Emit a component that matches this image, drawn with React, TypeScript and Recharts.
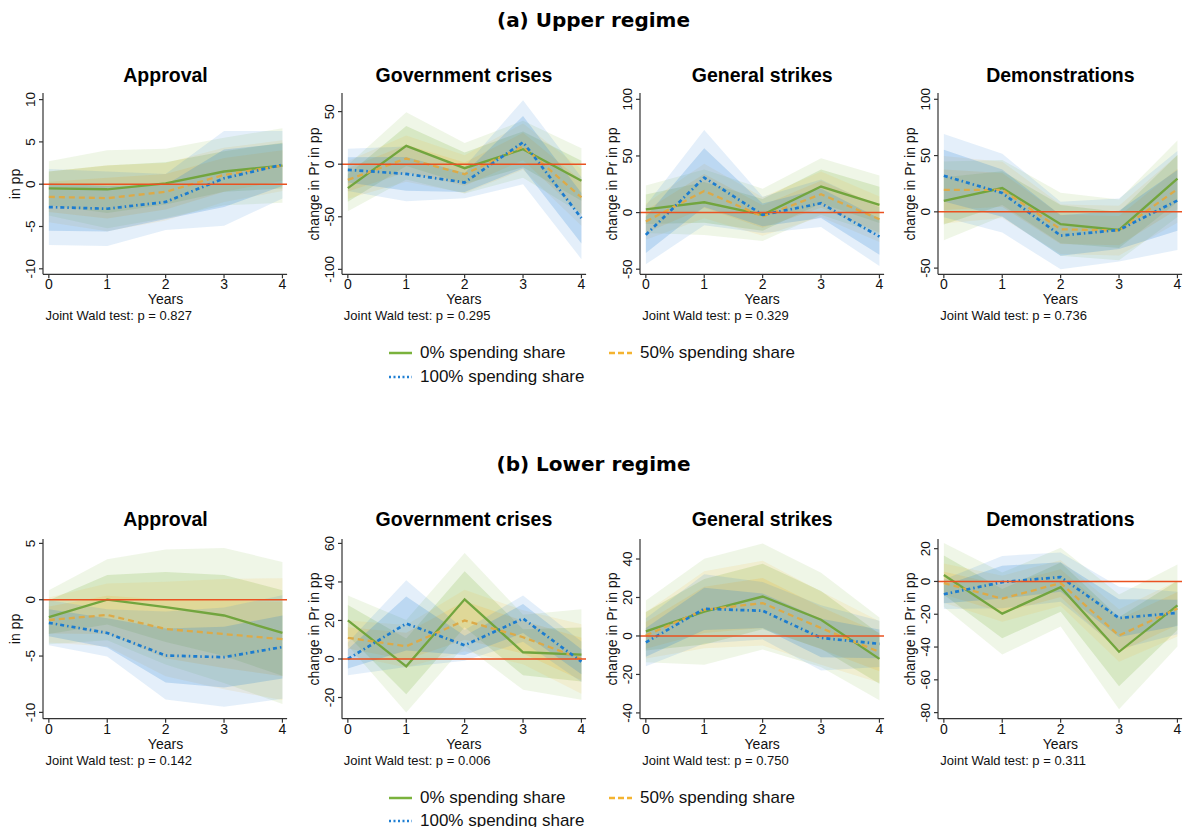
import React from 'react';
import { ComposedChart, Area, Line, XAxis, YAxis, ReferenceLine } from 'recharts';

// ---------- data ----------
const years = [0, 1, 2, 3, 4];
const xTicks = [0, 1, 2, 3, 4];

const seriesNames = ['0% spending share', '50% spending share', '100% spending share'];
const sectionTitles = ['(a) Upper regime', '(b) Lower regime'];
const panelTitles = ['Approval', 'Government crises', 'General strikes', 'Demonstrations'];
const yLabels = ['in pp', 'change in Pr in pp', 'change in Pr in pp', 'change in Pr in pp'];
const waldUpper = ['0.827', '0.295', '0.329', '0.736'];
const waldLower = ['0.142', '0.006', '0.750', '0.311'];

// Upper regime — Approval
const uApG = [-0.5, -0.6, 0.1, 1.5, 2.2];
const uApGOut = [3.2, 4.6, 4.1, 4.0, 4.4];
const uApGIn = [2.0, 2.8, 2.5, 2.4, 2.7];
const uApO = [-1.5, -1.65, -0.9, 1.1, 2.2];
const uApOOut = [3.0, 3.9, 3.4, 3.2, 3.0];
const uApOIn = [1.8, 2.4, 2.1, 2.0, 1.8];
const uApB = [-2.7, -2.9, -2.1, 0.7, 2.3];
const uApBOut = [4.5, 4.4, 3.3, 5.6, 4.0];
const uApBIn = [2.8, 2.7, 2.0, 3.4, 2.5];

// Upper regime — Government crises
const uGcG = [-22.8, 17.4, -3.8, 14.2, -15.8];
const uGcGOut = [22, 32, 24, 27, 31];
const uGcGIn = [13, 19, 15, 17, 19];
const uGcO = [-14.9, 5.4, -9.5, 16.8, -31.6];
const uGcOOut = [18, 22, 18, 22, 27];
const uGcOIn = [11, 13, 11, 13, 16];
const uGcB = [-5.4, -9.2, -17.4, 20.9, -51.3];
const uGcBOut = [20, 26, 15, 40, 39];
const uGcBIn = [12, 16, 9, 25, 24];

// Upper regime — General strikes
const uGsG = [2.9, 9.1, -2, 23, 6.8];
const uGsGOut = [21, 29, 23, 25, 26];
const uGsGIn = [13, 18, 14, 15, 16];
const uGsO = [-7.9, 19.1, -3.5, 16.2, -5.9];
const uGsOOut = [16, 24, 17, 20, 20];
const uGsOIn = [10, 15, 10, 12, 12];
const uGsB = [-19.7, 30.9, -2, 8.2, -21.2];
const uGsBOut = [26, 42, 16, 21, 26];
const uGsBIn = [16, 26, 10, 13, 16];

// Upper regime — Demonstrations
const uDmG = [9.8, 21.1, -11, -16.1, 29.5];
const uDmGOut = [35, 25, 28, 27, 34];
const uDmGIn = [21, 15, 17, 16, 21];
const uDmO = [19.6, 19.6, -15.5, -16.7, 20.2];
const uDmOOut = [30, 25, 22, 22, 30];
const uDmOIn = [18, 15, 13, 13, 18];
const uDmB = [32.1, 16.7, -21.1, -16.1, 10.1];
const uDmBOut = [37, 35, 30, 28, 44];
const uDmBIn = [23, 21, 18, 17, 27];

// Lower regime — Approval
const lApG = [-1.55, 0, -0.65, -1.4, -2.95];
const lApGOut = [2.4, 3.6, 5.1, 6.0, 6.3];
const lApGIn = [1.5, 2.2, 3.1, 3.6, 3.8];
const lApO = [-1.8, -1.35, -2.6, -3.05, -3.5];
const lApOOut = [2.0, 2.8, 4.2, 4.9, 5.4];
const lApOIn = [1.2, 1.7, 2.6, 3.0, 3.3];
const lApB = [-2.05, -2.95, -4.95, -5.1, -4.2];
const lApBOut = [2.0, 2.1, 3.9, 4.4, 4.6];
const lApBIn = [1.2, 1.3, 2.4, 2.7, 2.8];

// Lower regime — Government crises
const lGcG = [20, -3.8, 31, 3.5, 2.3];
const lGcGOut = [13, 24, 24, 19.5, 23.5];
const lGcGIn = [8, 14.5, 14.5, 12, 14];
const lGcO = [11, 6.6, 20, 11.3, 0];
const lGcOOut = [9, 11, 16, 14, 18];
const lGcOIn = [5.5, 7, 10, 8.5, 11];
const lGcB = [0, 18.4, 7.1, 21, -1.4];
const lGcBOut = [8.5, 22.5, 8, 12, 10.5];
const lGcBIn = [5, 14, 5, 7.5, 6.5];

// Lower regime — General strikes
const lGsG = [2.4, 12.6, 20.5, 8.4, -11.9];
const lGsGOut = [16, 27.5, 27.5, 24.5, 21.5];
const lGsGIn = [10, 17, 17, 15, 13];
const lGsO = [0.3, 13.6, 17.1, 4.1, -8.3];
const lGsOOut = [12, 20, 22, 19, 16];
const lGsOIn = [7, 12, 13, 11, 10];
const lGsB = [-3.3, 14.1, 13.1, -1, -4.1];
const lGsBOut = [12.5, 18, 15, 17, 12];
const lGsBIn = [7.5, 11, 9, 10, 7.5];

// Lower regime — Demonstrations
const lDmG = [3.9, -19.6, -3.5, -42.9, -14.6];
const lDmGOut = [19.5, 25, 24, 35, 25];
const lDmGIn = [12, 15, 15, 21, 15];
const lDmO = [-1, -10.5, -1, -33, -16.5];
const lDmOOut = [12, 14, 14, 16, 17];
const lDmOIn = [7, 8.5, 8.5, 10, 10];
const lDmB = [-7.8, -0.4, 2.7, -22.3, -19.2];
const lDmBOut = [9, 16, 15, 19, 13];
const lDmBIn = [5.5, 10, 9, 11.5, 8];

// y-axis ticks per panel
const uApTicks = [-10, -5, 0, 5, 10];
const uGcTicks = [-100, -50, 0, 50];
const uGsTicks = [-50, 0, 50, 100];
const uDmTicks = [-50, 0, 50, 100];
const lApTicks = [-10, -5, 0, 5];
const lGcTicks = [-20, 0, 20, 40, 60];
const lGsTicks = [-40, -20, 0, 20, 40];
const lDmTicks = [-80, -60, -40, -20, 0, 20];

// ---------- style ----------
const FONT = '"Liberation Sans", Arial, Helvetica, sans-serif';
const GREEN = '#7ab23c';
const ORANGE = '#f4b330';
const BLUE = '#1f7fd3';
const LINE_GREEN = '#72a53e';
const LINE_ORANGE = '#dcaa48';
const LINE_BLUE = '#1c7ccf';
const RED = '#ea5220';
const AXIS = '#333333';
const OUT_OP = 0.12;
const IN_OP = 0.2;

const PX_PER_YEAR = 58.4;
const X_DOMAIN: [number, number] = [-0.1, 4.08];
const PLOT_W = (X_DOMAIN[1] - X_DOMAIN[0]) * PX_PER_YEAR;
const ZERO_X = [49.3, 347.7, 646, 944.2];
const ROW_TOP = [93, 539.3];
const ROW_H = [181.3, 179.7];
const Y_W = 40;
const M_T = 5;
const M_R = 5;
const X_H = 24;

type Series = { c: number[]; out: number[]; inn: number[] };
type PanelSpec = {
  g: Series; o: Series; b: Series;
  domain: [number, number]; ticks: number[];
};

const upperPanels: PanelSpec[] = [
  { g: { c: uApG, out: uApGOut, inn: uApGIn }, o: { c: uApO, out: uApOOut, inn: uApOIn }, b: { c: uApB, out: uApBOut, inn: uApBIn }, domain: [-10.65, 10.78], ticks: uApTicks },
  { g: { c: uGcG, out: uGcGOut, inn: uGcGIn }, o: { c: uGcO, out: uGcOOut, inn: uGcOIn }, b: { c: uGcB, out: uGcBOut, inn: uGcBIn }, domain: [-104.7, 67.7], ticks: uGcTicks },
  { g: { c: uGsG, out: uGsGOut, inn: uGsGIn }, o: { c: uGsO, out: uGsOOut, inn: uGsOIn }, b: { c: uGsB, out: uGsBOut, inn: uGsBIn }, domain: [-54.5, 105.6], ticks: uGsTicks },
  { g: { c: uDmG, out: uDmGOut, inn: uDmGIn }, o: { c: uDmO, out: uDmOOut, inn: uDmOIn }, b: { c: uDmB, out: uDmBOut, inn: uDmBIn }, domain: [-55.5, 105.6], ticks: uDmTicks },
];
const lowerPanels: PanelSpec[] = [
  { g: { c: lApG, out: lApGOut, inn: lApGIn }, o: { c: lApO, out: lApOOut, inn: lApOIn }, b: { c: lApB, out: lApBOut, inn: lApBIn }, domain: [-10.56, 5.39], ticks: lApTicks },
  { g: { c: lGcG, out: lGcGOut, inn: lGcGIn }, o: { c: lGcO, out: lGcOOut, inn: lGcOIn }, b: { c: lGcB, out: lGcBOut, inn: lGcBIn }, domain: [-31.0, 62.3], ticks: lGcTicks },
  { g: { c: lGsG, out: lGsGOut, inn: lGsGIn }, o: { c: lGsO, out: lGsOOut, inn: lGsOIn }, b: { c: lGsB, out: lGsBOut, inn: lGsBIn }, domain: [-43.0, 50.4], ticks: lGsTicks },
  { g: { c: lDmG, out: lDmGOut, inn: lDmGIn }, o: { c: lDmO, out: lDmOOut, inn: lDmOIn }, b: { c: lDmB, out: lDmBOut, inn: lDmBIn }, domain: [-83.7, 25.9], ticks: lDmTicks },
];

function buildRows(p: PanelSpec) {
  return years.map((x, i) => ({
    x,
    g: p.g.c[i],
    gOut: [p.g.c[i] - p.g.out[i], p.g.c[i] + p.g.out[i]],
    gIn: [p.g.c[i] - p.g.inn[i], p.g.c[i] + p.g.inn[i]],
    o: p.o.c[i],
    oOut: [p.o.c[i] - p.o.out[i], p.o.c[i] + p.o.out[i]],
    oIn: [p.o.c[i] - p.o.inn[i], p.o.c[i] + p.o.inn[i]],
    b: p.b.c[i],
    bOut: [p.b.c[i] - p.b.out[i], p.b.c[i] + p.b.out[i]],
    bIn: [p.b.c[i] - p.b.inn[i], p.b.c[i] + p.b.inn[i]],
  }));
}

const RotTick = (props: any) => {
  const { x, y, payload } = props;
  return (
    <text
      x={x}
      y={y}
      transform={`rotate(-90 ${x} ${y})`}
      textAnchor="middle"
      fontSize={13.5}
      fontFamily={FONT}
      fill="#111"
    >
      {payload.value}
    </text>
  );
};

function Panel({ spec, row, col, title, ylabel, wald }: { spec: PanelSpec; row: number; col: number; title: string; ylabel: string; wald: string }) {
  const plotLeft = ZERO_X[col] + X_DOMAIN[0] * PX_PER_YEAR;
  const plotTop = ROW_TOP[row];
  const plotH = ROW_H[row];
  const axisY = plotTop + plotH;
  const rows = buildRows(spec);
  const areaCommon = { type: 'linear' as const, stroke: 'none', isAnimationActive: false, dot: false, activeDot: false };
  return (
    <>
      <div style={{ position: 'absolute', left: plotLeft, width: PLOT_W, top: plotTop - (row === 0 ? 30 : 32), height: 24, lineHeight: '24px', textAlign: 'center', fontSize: 19.5, fontWeight: 'bold', fontFamily: FONT, color: '#000', whiteSpace: 'nowrap' }}>{title}</div>
      <div style={{ position: 'absolute', left: plotLeft - 28 - 80, width: 160, top: plotTop + plotH / 2 - 9, height: 18, lineHeight: '18px', textAlign: 'center', fontSize: 14, fontFamily: FONT, color: '#111', transform: 'rotate(-90deg)', transformOrigin: '80px 9px', whiteSpace: 'nowrap' }}>{ylabel}</div>
      <div style={{ position: 'absolute', left: plotLeft, width: PLOT_W, top: axisY + 25 - 9, height: 18, lineHeight: '18px', textAlign: 'center', fontSize: 14, fontFamily: FONT, color: '#111' }}>Years</div>
      <div style={{ position: 'absolute', left: plotLeft + 2, top: axisY + 42 - 9, height: 18, lineHeight: '18px', fontSize: 13, fontFamily: FONT, color: '#111', whiteSpace: 'nowrap' }}>{`Joint Wald test: p = ${wald}`}</div>
      <div style={{ position: 'absolute', left: plotLeft - Y_W, top: plotTop - M_T }}>
        <ComposedChart
          width={Y_W + PLOT_W + M_R}
          height={M_T + plotH + X_H}
          data={rows}
          margin={{ top: M_T, right: M_R, left: 0, bottom: 0 }}
        >
          <XAxis
            dataKey="x"
            type="number"
            domain={X_DOMAIN}
            ticks={xTicks}
            interval={0}
            allowDataOverflow
            height={X_H}
            tickSize={4}
            tickMargin={1}
            axisLine={{ stroke: AXIS, strokeWidth: 1.2 }}
            tickLine={{ stroke: AXIS, strokeWidth: 1.2 }}
            tick={{ fontSize: 14, fontFamily: FONT, fill: '#111' }}
          />
          <YAxis
            type="number"
            domain={spec.domain}
            ticks={spec.ticks}
            interval={0}
            allowDataOverflow
            width={Y_W}
            tickSize={4}
            tickMargin={4}
            axisLine={{ stroke: AXIS, strokeWidth: 1.2 }}
            tickLine={{ stroke: AXIS, strokeWidth: 1.2 }}
            tick={<RotTick />}
          />
          <Area {...areaCommon} dataKey="gOut" fill={GREEN} fillOpacity={OUT_OP} />
          <Area {...areaCommon} dataKey="gIn" fill={GREEN} fillOpacity={IN_OP} />
          <Line type="linear" dataKey="g" stroke={LINE_GREEN} strokeWidth={2.3} dot={false} activeDot={false} isAnimationActive={false} />
          <Area {...areaCommon} dataKey="oOut" fill={ORANGE} fillOpacity={OUT_OP} />
          <Area {...areaCommon} dataKey="oIn" fill={ORANGE} fillOpacity={IN_OP} />
          <Line type="linear" dataKey="o" stroke={LINE_ORANGE} strokeWidth={2.3} strokeDasharray="6 4" dot={false} activeDot={false} isAnimationActive={false} />
          <Area {...areaCommon} dataKey="bOut" fill={BLUE} fillOpacity={OUT_OP} />
          <Area {...areaCommon} dataKey="bIn" fill={BLUE} fillOpacity={IN_OP} />
          <Line type="linear" dataKey="b" stroke={LINE_BLUE} strokeWidth={2.7} strokeDasharray="4 3 1.5 3" dot={false} activeDot={false} isAnimationActive={false} />
          <ReferenceLine y={0} stroke={RED} strokeWidth={1.5} ifOverflow="hidden" />
        </ComposedChart>
      </div>
    </>
  );
}

function LegendBlock({ top }: { top: number }) {
  const item = (left: number, y: number, color: string, dash: string | undefined, width: number, label: string) => (
    <div style={{ position: 'absolute', left, top: y - 11, height: 22, display: 'flex', alignItems: 'center', whiteSpace: 'nowrap' }}>
      <svg width={24} height={6} style={{ display: 'block' }}>
        <line x1={0} y1={3} x2={23} y2={3} stroke={color} strokeWidth={width} strokeDasharray={dash} />
      </svg>
      <span style={{ marginLeft: 7, fontSize: 17, fontFamily: FONT, color: '#111', lineHeight: '22px' }}>{label}</span>
    </div>
  );
  return (
    <>
      {item(389, top, GREEN, undefined, 2.5, seriesNames[0])}
      {item(609, top, ORANGE, '6 3', 2.5, seriesNames[1])}
      {item(389, top + 23.5, BLUE, '2 2.5', 2.6, seriesNames[2])}
    </>
  );
}

const SECTION_FONT = '"DejaVu Sans", "Liberation Sans", sans-serif';

export default function App() {
  return (
    <div style={{ position: 'absolute', left: 0, top: 0, width: 1187, height: 827, background: '#fff', overflow: 'hidden' }}>
      <div style={{ position: 'absolute', left: 0, width: 1187, top: 6, height: 28, lineHeight: '28px', textAlign: 'center', fontSize: 20, fontWeight: 'bold', fontFamily: SECTION_FONT, color: '#000' }}>{sectionTitles[0]}</div>
      <div style={{ position: 'absolute', left: 0, width: 1187, top: 450, height: 28, lineHeight: '28px', textAlign: 'center', fontSize: 20, fontWeight: 'bold', fontFamily: SECTION_FONT, color: '#000' }}>{sectionTitles[1]}</div>
      {upperPanels.map((p, i) => (
        <Panel key={`u${i}`} spec={p} row={0} col={i} title={panelTitles[i]} ylabel={yLabels[i]} wald={waldUpper[i]} />
      ))}
      {lowerPanels.map((p, i) => (
        <Panel key={`l${i}`} spec={p} row={1} col={i} title={panelTitles[i]} ylabel={yLabels[i]} wald={waldLower[i]} />
      ))}
      <LegendBlock top={353.3} />
      <LegendBlock top={797.8} />
    </div>
  );
}
